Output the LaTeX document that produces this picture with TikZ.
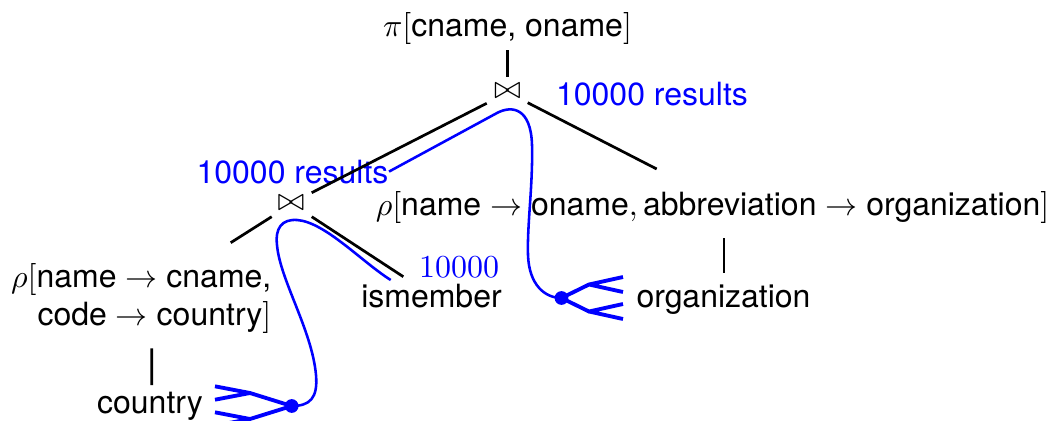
\documentclass[tikz,border=0pt]{standalone}
\usepackage[no-math]{fontspec}
\setmainfont{TeX Gyre Heros}
\usetikzlibrary{calc}
\begin{document}
\begin{tikzpicture}[x=0.3125pt,y=-0.3125pt,
  lbl/.style={inner sep=0pt, font=\fontsize{10}{11.6}\selectfont},
  note/.style={lbl, text=blue},
  edge/.style={line width=0.85pt, black},
  walk/.style={blue, line width=0.8pt},
  finger/.style={blue, line width=1.2pt},
  dotnode/.style={circle, fill=blue, inner sep=0pt, minimum size=4.3pt}]
\useasboundingbox (0,0) rectangle (1060,420);
% nodes
\node[lbl, anchor=base] (pi) at (507.5,36) {$\pi[$cname, oname$]$};
\node[lbl] (j1) at (507.5,91.5) {$\bowtie$};
\node[note, anchor=base] (lab1) at (652,105) {10000 results};
\node[note, anchor=base] (lab2) at (292.5,183) {10000 results};
\node[lbl] (j2) at (291,203) {$\bowtie$};
\node[lbl, anchor=base] (r2) at (712.5,215) {$\rho[\mbox{name}\rightarrow\mbox{oname},\mbox{abbreviation}\rightarrow\mbox{organization}]$};
\node[lbl, anchor=base east, align=right] (r1) at (272,325) {$\rho[$name $\rightarrow$ cname,\\ code $\rightarrow$ country$]$};
\node[lbl, anchor=base] (ism) at (431.5,307) {ismember};
\node[note, anchor=base] (num) at (459,277) {$10000$};
\node[lbl, anchor=base] (org) at (723.5,307) {organization};
\node[lbl, anchor=base] (cty) at (150,413) {country};
\node[dotnode] (h1) at (561.5,298) {};
\node[dotnode] (h2) at (291.7,406) {};
% tree edges
\draw[edge] ([shift={(0,14)}]pi.base) -- ([shift={(0,-14.5)}]j1.center);
\draw[edge] ([shift={(-20.8,11.8)}]j1.center) -- ([shift={(20.7,-10.3)}]j2.center);
\draw[edge] ([shift={(20.2,11.2)}]j1.center) -- ([shift={(-55.8,-46)}]r2.base);
\draw[edge] ([shift={(-19.3,13.7)}]j2.center) -- ([shift={(-41.3,-82.3)}]r1.base east);
\draw[edge] ([shift={(20.7,13.7)}]j2.center) -- ([shift={(-28.2,-30.3)}]ism.base);
\draw[edge] ([shift={(-120.3,23.3)}]r1.base east) -- ([shift={(1.7,-28)}]cty.base);
\draw[edge] ([shift={(11.5,23)}]r2.base) -- ([shift={(0.5,-34)}]org.base);
% walk curves
\draw[walk] (lab2.east) -- (497,113) .. controls (512,105) and (531,108) .. (532,145)
  .. controls (533,185) and (527,225) .. (528,255) .. controls (529,285) and (545,298) .. (h1.center);
\draw[walk] ([shift={(-40.8,-27)}]ism.base) .. controls (362,262) and (325,222) .. (297,220)
  .. controls (282,219) and (275,228) .. (277,245) .. controls (280,280) and (312,330) .. (316,375)
  .. controls (318,398) and (310,406) .. (h2.center);
% hands
\draw[finger] (h1.center) -- ++(27.5,-13.5) -- ++(34,-7.5) ++(-34,7.5) -- ++(34,7.5);
\draw[finger] (h1.center) -- ++(27.5,13.5) -- ++(34,-7.5) ++(-34,7.5) -- ++(34,7.5);
\draw[finger] (h2.center) -- ++(-41.7,-13) -- ++(-35,-6.7) ++(35,6.7) -- ++(-35,6.7);
\draw[finger] (h2.center) -- ++(-41.7,13) -- ++(-35,-6.7) ++(35,6.7) -- ++(-35,6.7);
\end{tikzpicture}
\end{document}
